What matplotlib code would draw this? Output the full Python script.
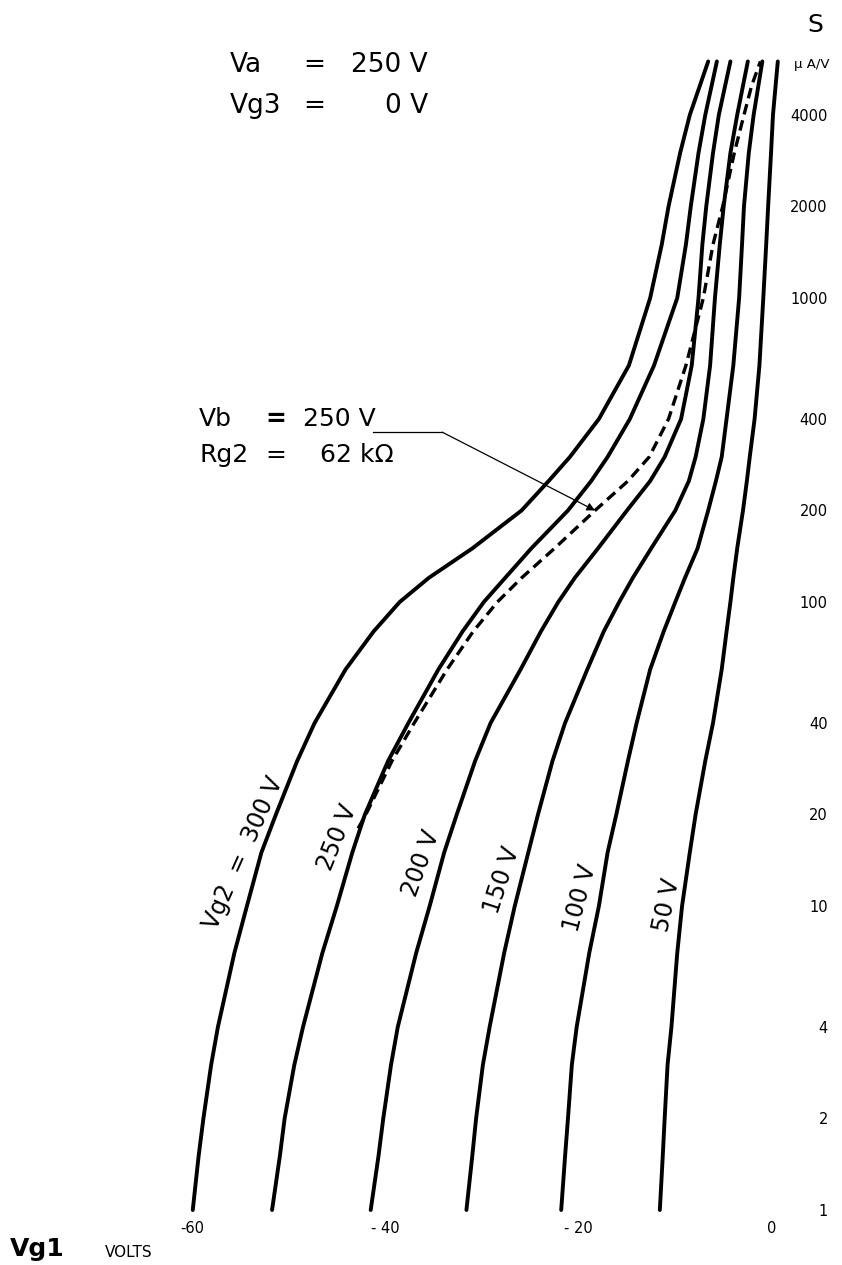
import matplotlib.pyplot as plt
from matplotlib.ticker import NullLocator

plt.rcParams['font.family'] = ['DejaVu Sans']

# mutual conductance S (uA/V) at which each curve was read
s_levels = [1, 1.5, 2, 3, 4, 7, 10, 15, 20, 30, 40, 60, 80, 100, 120, 150,
            200, 250, 300, 400, 600, 1000, 1500, 2000, 3000, 4000, 6000]

# Vg1 (V) along each Vg2 curve
vg1_300 = [-59.9, -59.3, -58.8, -58.0, -57.3, -55.6, -54.3, -52.8, -51.3, -49.1,
           -47.3, -44.1, -41.2, -38.5, -35.5, -31.0, -25.9, -23.1, -20.9, -17.9,
           -14.8, -12.6, -11.4, -10.7, -9.5, -8.5, -6.6]
vg1_250 = [-51.7, -50.9, -50.4, -49.4, -48.5, -46.5, -45.0, -43.4, -42.1, -39.7,
           -37.6, -34.5, -32.0, -29.8, -27.6, -24.9, -21.1, -18.7, -17.0, -14.7,
           -12.2, -9.8, -8.9, -8.4, -7.6, -6.9, -5.7]
vg1_200 = [-41.5, -40.7, -40.2, -39.4, -38.7, -36.8, -35.4, -33.9, -32.6, -30.7,
           -29.1, -26.0, -23.9, -22.1, -20.4, -18.0, -15.0, -12.6, -11.1, -9.4,
           -8.3, -7.6, -7.2, -6.8, -6.1, -5.5, -4.3]
vg1_150 = [-31.6, -31.0, -30.6, -29.9, -29.2, -27.7, -26.6, -25.2, -24.2, -22.7,
           -21.4, -19.1, -17.4, -15.8, -14.4, -12.5, -10.0, -8.6, -7.9, -7.1,
           -6.4, -5.9, -5.4, -5.0, -4.3, -3.6, -2.5]
vg1_100 = [-21.8, -21.4, -21.1, -20.7, -20.2, -18.9, -17.9, -17.0, -16.1, -14.9,
           -14.0, -12.6, -11.2, -10.0, -9.0, -7.7, -6.6, -5.8, -5.2, -4.7,
           -4.0, -3.4, -3.1, -2.9, -2.4, -1.9, -1.0]
vg1_50 = [-11.6, -11.3, -11.1, -10.8, -10.4, -9.8, -9.3, -8.5, -7.9, -6.9,
          -6.1, -5.2, -4.7, -4.3, -4.0, -3.6, -3.0, -2.6, -2.3, -1.8,
          -1.3, -0.9, -0.6, -0.4, -0.1, 0.1, 0.6]
curves = [vg1_300, vg1_250, vg1_200, vg1_150, vg1_100, vg1_50]
curve_labels = ['Vg2  =  300 V', '250 V', '200 V', '150 V', '100 V', '50 V']

# dashed curve: Vb = 250 V, Rg2 = 62 kOhm
dash_s = [18, 20, 30, 40, 60, 80, 100, 120, 150, 200, 250, 300, 400, 600,
          1000, 1500, 2000, 3000, 4000, 5000, 6000]
dash_vg1 = [-42.8, -42.0, -39.3, -37.0, -33.6, -30.9, -28.4, -25.9, -22.5, -18.3,
            -14.9, -12.7, -10.7, -8.9, -7.1, -6.1, -5.1, -3.9, -2.9, -2.1, -1.2]

s_ticks = [1, 2, 4, 10, 20, 40, 100, 200, 400, 1000, 2000, 4000]
x_ticks = [-60, -40, -20, 0]
x_ticklabels = ['-60', '- 40', '- 20', '0']

W, H = 842, 1265
fig = plt.figure(figsize=(W / 100, H / 100), dpi=100)
ax = fig.add_axes([0, 50 / H, 800 / W, 1215 / H])
ax.set_yscale('log')
ax.set_xlim(-772 / 9.67, 28 / 9.67)
ax.set_ylim(10 ** (-5 / 304), 10 ** (1210 / 304))
for sp in ax.spines.values():
    sp.set_visible(False)

ax.yaxis.tick_right()
ax.set_yticks(s_ticks)
ax.set_yticklabels([str(v) for v in s_ticks])
ax.yaxis.set_minor_locator(NullLocator())
ax.tick_params(axis='y', length=0, pad=20, labelsize=10.5)
plt.setp(ax.get_yticklabels(), ha='right')
ax.set_xticks(x_ticks)
ax.set_xticklabels(x_ticklabels)
ax.tick_params(axis='x', length=0, pad=4, labelsize=10.5)

for v in curves:
    ax.plot(v, s_levels, color='black', lw=2.8, solid_capstyle='round',
            solid_joinstyle='round')
ax.plot(dash_vg1, dash_s, color='black', lw=2.4, dashes=(3.2, 1.8))

# leader line to the dashed curve
ax.plot([-41.3, -34.1], [362, 362], color='black', lw=0.9)
i = dash_s.index(200)
ax.annotate('', xy=(dash_vg1[i], dash_s[i]), xytext=(-34.1, 362),
            arrowprops=dict(arrowstyle='-|>', color='black', lw=0.9,
                            mutation_scale=12, shrinkA=0, shrinkB=0))


def put(x, y, s, **kw):
    fig.text(x / W, 1 - y / H, s, **kw)


big = dict(fontsize=19, va='baseline')
put(230, 72, 'Va', **big)
put(303, 72, '=', **big)
put(428, 72, '250 V', ha='right', **big)
put(230, 113, 'Vg3', **big)
put(303, 113, '=', **big)
put(428, 113, '0 V', ha='right', **big)

mid = dict(fontsize=18, va='baseline')
put(199, 426, 'Vb', **mid)
put(265, 426, '=', fontweight='bold', **mid)
put(303, 426, '250 V', **mid)
put(199, 462, 'Rg2', **mid)
put(265, 462, '=', **mid)
put(320, 462, '62 kΩ', **mid)

# curve labels, rotated along the curves
label_pos = [(243, 853, 66), (337, 837, 68), (421, 863, 70),
             (502, 880, 72), (580, 898, 75), (667, 905, 78)]
for lbl, (cx, cy, ang) in zip(curve_labels, label_pos):
    put(cx, cy, lbl, fontsize=17, rotation=ang, ha='center', va='center',
        rotation_mode='anchor')

put(815, 32, 'S', fontsize=18, ha='center', va='baseline')
put(830, 68, 'µ A/V', fontsize=9.5, ha='right', va='baseline')
put(10, 1256, 'Vg1', fontsize=18, fontweight='bold', va='baseline')
put(105, 1257, 'VOLTS', fontsize=11, va='baseline')

fig.savefig('out.png', dpi=100)
